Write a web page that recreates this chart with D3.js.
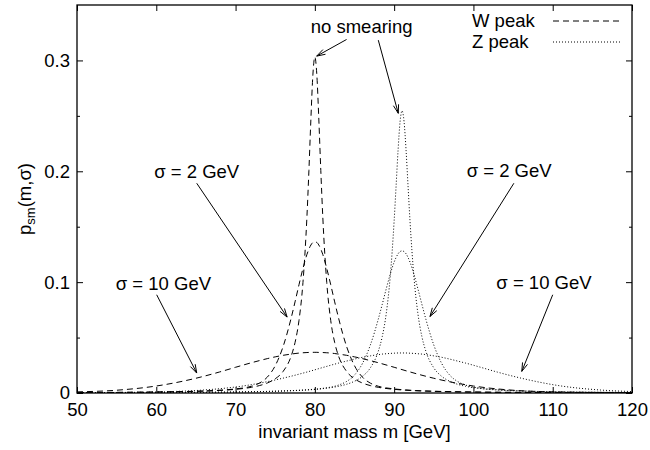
<!DOCTYPE html>
<html>
<head>
<meta charset="utf-8">
<script src="https://cdn.jsdelivr.net/npm/d3@7"></script>
<style>
  body { margin: 0; background: #fff; }
  text { font-family: "Liberation Sans", Arial, Helvetica, sans-serif; fill: #000; }
</style>
</head>
<body>
<div id="chart"></div>
<script>
// ---- data ----
// W peak: invariant mass grid [GeV] and p_sm for sigma = 0, 2, 10 GeV
const massW = [50,55,60,65,68,70,72,73,74,75,76,77,77.5,78,78.5,79,79.25,79.5,79.75,80,80.25,80.5,80.75,81,81.5,82,82.5,83,84,85,86,87,88,90,92,95,100,105,110,120];
const wNoSmear = [0.00037,0.00053,0.00083,0.00148,0.0023,0.00331,0.00513,0.00667,0.009,0.0128,0.0195,0.0331,0.0455,0.0655,0.0997,0.159,0.2007,0.2471,0.2869,0.3031,0.2869,0.2471,0.2007,0.159,0.0997,0.0655,0.0455,0.0331,0.0195,0.0128,0.009,0.00667,0.00513,0.00331,0.0023,0.00148,0.00083,0.00053,0.00037,0.00021];
const wSigma2 = [0.0004,0.00055,0.0009,0.0016,0.0025,0.0037,0.0061,0.0089,0.0143,0.0246,0.042,0.0673,0.0822,0.0977,0.1124,0.125,0.1298,0.1335,0.1358,0.1365,0.1358,0.1335,0.1298,0.125,0.1124,0.0977,0.0822,0.0673,0.042,0.0246,0.0143,0.0089,0.0061,0.0037,0.0025,0.0016,0.0009,0.00055,0.0004,0.00022];
const wSigma10 = [0.001,0.0025,0.0063,0.0133,0.019,0.0232,0.0273,0.0292,0.031,0.0326,0.034,0.0351,0.0356,0.036,0.0363,0.0365,0.0366,0.0366,0.0367,0.0367,0.0367,0.0366,0.0366,0.0365,0.0363,0.036,0.0356,0.0351,0.034,0.0326,0.031,0.0292,0.0273,0.0232,0.019,0.0133,0.0063,0.0025,0.001,0.0003];

// Z peak
const massZ = [50,56,61,66,71,76,79,81,83,84,85,86,87,88,88.5,89,89.5,90,90.25,90.5,90.75,91,91.25,91.5,91.75,92,92.5,93,93.5,94,95,96,97,98,99,101,103,106,111,116,120];
const zNoSmear = [0.00024,0.00032,0.00044,0.00064,0.00099,0.00176,0.00273,0.00392,0.00607,0.00787,0.0106,0.015,0.0227,0.0377,0.0509,0.0715,0.1044,0.1553,0.1872,0.2195,0.2449,0.2546,0.2449,0.2195,0.1872,0.1553,0.1044,0.0715,0.0509,0.0377,0.0227,0.015,0.0106,0.00787,0.00607,0.00392,0.00273,0.00176,0.00099,0.00064,0.00047];
const zSigma2 = [0.00024,0.00033,0.00047,0.00065,0.001,0.0019,0.0029,0.0042,0.0072,0.0104,0.0162,0.0266,0.0433,0.0666,0.08,0.0939,0.107,0.1181,0.1223,0.1256,0.1276,0.1282,0.1276,0.1256,0.1223,0.1181,0.107,0.0939,0.08,0.0666,0.0433,0.0266,0.0162,0.0104,0.0072,0.0042,0.0029,0.0019,0.001,0.00065,0.00048];
const zSigma10 = [0.0003,0.0005,0.0011,0.0027,0.0064,0.0134,0.0189,0.023,0.027,0.0288,0.0306,0.0322,0.0335,0.0346,0.0351,0.0354,0.0357,0.0359,0.036,0.0361,0.0361,0.0361,0.0361,0.0361,0.036,0.0359,0.0357,0.0354,0.0351,0.0346,0.0335,0.0322,0.0306,0.0288,0.027,0.023,0.0189,0.0134,0.0064,0.0027,0.0013];

// axes
const xTicks = [50,60,70,80,90,100,110,120];
const yTicks = [0,0.1,0.2,0.3];
const yMinorTicks = [0.05,0.15,0.25];
const yTickLabels = ["0","0.1","0.2","0.3"];

// labels + arrows, in data coordinates (text anchor point, arrow start, arrow end)
const notes = [
  { text: "no smearing", at: [85.9, 0.3246], arrows: [[[84.0, 0.3189], [80.23, 0.3039]], [[88.0, 0.3183], [90.52, 0.2523]]] },
  { text: "σ = 2 GeV",  at: [65.1, 0.194],  arrows: [[[65.1, 0.1892], [76.5, 0.0685]]] },
  { text: "σ = 10 GeV", at: [60.9, 0.0931], arrows: [[[60.05, 0.0886], [65.1, 0.018]]] },
  { text: "σ = 2 GeV",  at: [104.5, 0.1946], arrows: [[[105.1, 0.1892], [94.52, 0.069]]] },
  { text: "σ = 10 GeV", at: [108.9, 0.0937], arrows: [[[110.0, 0.0886], [106.1, 0.0195]]] }
];

// ---- layout ----
const width = 650, height = 450;
const margin = { top: 5, right: 18, bottom: 57, left: 77 };
const iw = width - margin.left - margin.right;
const ih = height - margin.top - margin.bottom;
const fontSize = 18.5;

const svg = d3.select("#chart").append("svg")
  .attr("width", width)
  .attr("height", height);

const g = svg.append("g")
  .attr("transform", `translate(${margin.left},${margin.top})`);

const x = d3.scaleLinear().domain([50, 120]).range([0, iw]);
const y = d3.scaleLinear().domain([0, 0.35]).range([ih, 0]);

svg.append("defs").append("clipPath").attr("id", "clip")
  .append("rect").attr("width", iw).attr("height", ih);

// --- curves ---
const line = d3.line()
  .x(d => x(d[0]))
  .y(d => y(d[1]))
  .curve(d3.curveMonotoneX);

const curves = [
  { m: massW, p: wNoSmear, dash: "6,4" },
  { m: massW, p: wSigma2, dash: "6,4" },
  { m: massW, p: wSigma10, dash: "6,4" },
  { m: massZ, p: zNoSmear, dash: "1,2" },
  { m: massZ, p: zSigma2, dash: "1,2" },
  { m: massZ, p: zSigma10, dash: "1,2" }
];

const plot = g.append("g").attr("clip-path", "url(#clip)");
curves.forEach(c => {
  plot.append("path")
    .datum(c.m.map((m, i) => [m, c.p[i]]))
    .attr("d", line)
    .attr("fill", "none")
    .attr("stroke", "#000")
    .attr("stroke-width", 1)
    .attr("stroke-dasharray", c.dash);
});

// --- axes (ticks inward, mirrored) ---
const fmt = d => yTickLabels[yTicks.indexOf(d)];

g.append("g")
  .attr("transform", `translate(0,${ih})`)
  .call(d3.axisBottom(x).tickValues(xTicks).tickSize(-6).tickPadding(10))
  .call(a => a.select(".domain").remove());
g.append("g")
  .call(d3.axisTop(x).tickValues(xTicks).tickSize(-6).tickFormat(""))
  .call(a => a.select(".domain").remove());
g.append("g")
  .call(d3.axisLeft(y).tickValues(yTicks).tickSize(-6).tickPadding(7).tickFormat(fmt))
  .call(a => a.select(".domain").remove());
g.append("g")
  .call(d3.axisLeft(y).tickValues(yMinorTicks).tickSize(-3).tickFormat(""))
  .call(a => a.select(".domain").remove());
g.append("g")
  .attr("transform", `translate(${iw},0)`)
  .call(d3.axisRight(y).tickValues(yTicks).tickSize(-6).tickFormat(""))
  .call(a => a.select(".domain").remove());
g.append("g")
  .attr("transform", `translate(${iw},0)`)
  .call(d3.axisRight(y).tickValues(yMinorTicks).tickSize(-3).tickFormat(""))
  .call(a => a.select(".domain").remove());

g.selectAll(".tick line").attr("stroke", "#000");
g.selectAll(".tick text")
  .style("font-size", fontSize + "px")
  .style("font-family", "Liberation Sans, Arial, sans-serif");

// frame
g.append("rect")
  .attr("width", iw).attr("height", ih)
  .attr("fill", "none")
  .attr("stroke", "#000")
  .attr("stroke-width", 1.3);

// axis titles
g.append("text")
  .attr("x", iw / 2)
  .attr("y", ih + 45)
  .attr("text-anchor", "middle")
  .style("font-size", fontSize + "px")
  .text("invariant mass m [GeV]");

const yl = svg.append("text")
  .attr("transform", `translate(31,${margin.top + ih / 2}) rotate(-90)`)
  .attr("text-anchor", "middle")
  .style("font-size", fontSize + "px");
yl.append("tspan").text("p");
yl.append("tspan").attr("dy", 4).style("font-size", "13px").text("sm");
yl.append("tspan").attr("dy", -4).text("(m,σ)");

// --- annotations ---
function arrow(p0, p1) {
  const x0 = x(p0[0]), y0 = y(p0[1]), x1 = x(p1[0]), y1 = y(p1[1]);
  const ang = Math.atan2(y1 - y0, x1 - x0);
  const len = 9, spread = 0.3;
  g.append("line")
    .attr("x1", x0).attr("y1", y0).attr("x2", x1).attr("y2", y1)
    .attr("stroke", "#000").attr("stroke-width", 1);
  [ang + Math.PI - spread, ang + Math.PI + spread].forEach(a => {
    g.append("line")
      .attr("x1", x1).attr("y1", y1)
      .attr("x2", x1 + len * Math.cos(a)).attr("y2", y1 + len * Math.sin(a))
      .attr("stroke", "#000").attr("stroke-width", 1);
  });
}

notes.forEach(n => {
  g.append("text")
    .attr("x", x(n.at[0]))
    .attr("y", y(n.at[1]))
    .attr("text-anchor", "middle")
    .style("font-size", fontSize + "px")
    .text(n.text);
  n.arrows.forEach(a => arrow(a[0], a[1]));
});

// --- legend ---
const legend = [
  { label: "W peak", dash: "6,4" },
  { label: "Z peak", dash: "1,2" }
];
const lg = g.append("g").attr("transform", "translate(395,0)");
legend.forEach((l, i) => {
  const ly = 16 + i * 21;
  lg.append("text")
    .attr("x", 0).attr("y", ly)
    .attr("dy", "0.35em")
    .style("font-size", fontSize + "px")
    .text(l.label);
  lg.append("line")
    .attr("x1", 81).attr("x2", 149)
    .attr("y1", ly).attr("y2", ly)
    .attr("stroke", "#000").attr("stroke-width", 1)
    .attr("stroke-dasharray", l.dash);
});
</script>
</body>
</html>
